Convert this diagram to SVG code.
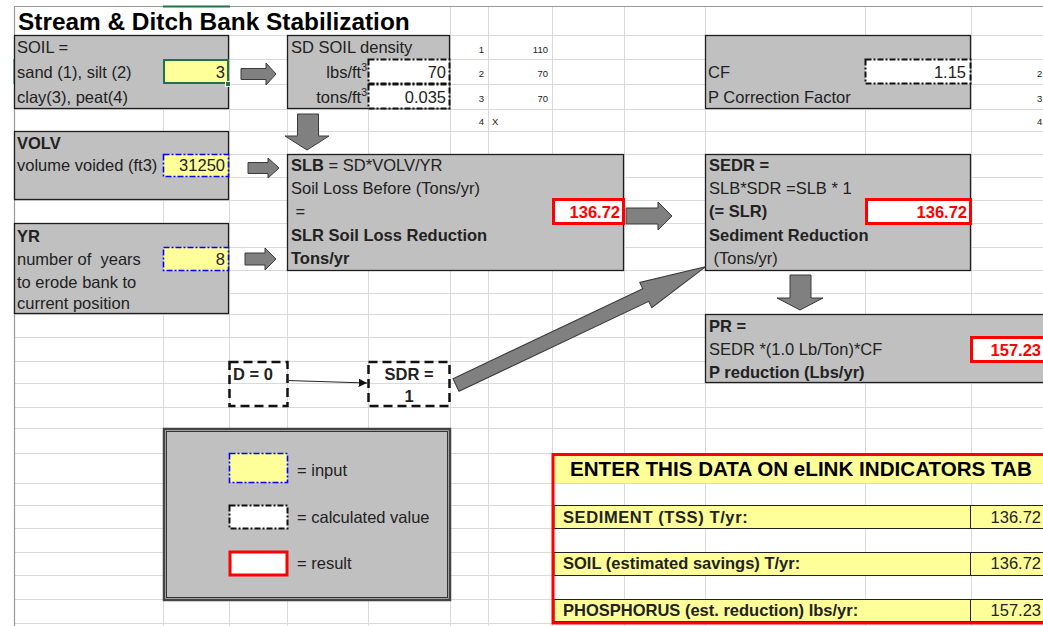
<svg xmlns="http://www.w3.org/2000/svg" width="1043" height="626" viewBox="0 0 1043 626">
<defs>
<style>
text{font-family:"Liberation Sans",Arial,sans-serif;font-size:16.5px;fill:#222;white-space:pre}
.b{font-weight:bold}
.r{text-anchor:end}
.red{fill:#ff0000;font-weight:bold}
.sm{font-size:9.5px}
.grid line{stroke:#dadada;stroke-width:1}
.box{fill:#c0c0c0;stroke:#1e1e1e;stroke-width:1.3}
.inp{fill:#ffff99;stroke:#0000ff;stroke-width:1.6;stroke-dasharray:6 2 2 2}
.calc{fill:#fff;stroke:#111;stroke-width:2;stroke-dasharray:6 2 2 2}
.res{fill:#fff;stroke:#ff0000;stroke-width:3}
.dash{fill:none;stroke:#111;stroke-width:2.5;stroke-dasharray:9 5}
.arr{fill:#808080;stroke:#3a3a3a;stroke-width:1}
</style>
<marker id="ah" viewBox="0 0 10 10" refX="10" refY="5" markerWidth="7" markerHeight="7" orient="auto">
<path d="M0,0 L10,5 L0,10 z" fill="#111"/>
</marker>
</defs>
<rect x="0" y="0" width="1043" height="626" fill="#fff"/>
<g class="grid">
<line x1="163.5" y1="6" x2="163.5" y2="626"/><line x1="229.5" y1="6" x2="229.5" y2="626"/>
<line x1="287.5" y1="6" x2="287.5" y2="626"/><line x1="368.5" y1="6" x2="368.5" y2="626"/>
<line x1="450.5" y1="6" x2="450.5" y2="626"/><line x1="488.5" y1="6" x2="488.5" y2="626"/>
<line x1="552.5" y1="6" x2="552.5" y2="626"/><line x1="624.5" y1="6" x2="624.5" y2="626"/>
<line x1="705.5" y1="6" x2="705.5" y2="626"/><line x1="865.5" y1="6" x2="865.5" y2="626"/>
<line x1="971.5" y1="6" x2="971.5" y2="626"/>
<line x1="14" y1="35.5" x2="1043" y2="35.5"/><line x1="14" y1="59.5" x2="1043" y2="59.5"/>
<line x1="14" y1="84.5" x2="1043" y2="84.5"/><line x1="14" y1="109.5" x2="1043" y2="109.5"/>
<line x1="14" y1="131.5" x2="1043" y2="131.5"/><line x1="14" y1="154.5" x2="1043" y2="154.5"/>
<line x1="14" y1="177.5" x2="1043" y2="177.5"/><line x1="14" y1="200.5" x2="1043" y2="200.5"/>
<line x1="14" y1="223.5" x2="1043" y2="223.5"/><line x1="14" y1="247.5" x2="1043" y2="247.5"/>
<line x1="14" y1="270.5" x2="1043" y2="270.5"/><line x1="14" y1="293.5" x2="1043" y2="293.5"/>
<line x1="14" y1="314.5" x2="1043" y2="314.5"/><line x1="14" y1="337.5" x2="1043" y2="337.5"/>
<line x1="14" y1="361.5" x2="1043" y2="361.5"/><line x1="14" y1="383.5" x2="1043" y2="383.5"/>
<line x1="14" y1="407.5" x2="1043" y2="407.5"/><line x1="14" y1="428.5" x2="1043" y2="428.5"/>
<line x1="14" y1="453.5" x2="1043" y2="453.5"/><line x1="14" y1="483.5" x2="1043" y2="483.5"/>
<line x1="14" y1="505.5" x2="1043" y2="505.5"/><line x1="14" y1="528.5" x2="1043" y2="528.5"/>
<line x1="14" y1="552.5" x2="1043" y2="552.5"/><line x1="14" y1="575.5" x2="1043" y2="575.5"/>
<line x1="14" y1="599.5" x2="1043" y2="599.5"/><line x1="14" y1="623.5" x2="1043" y2="623.5"/>
</g>
<rect x="15" y="7" width="435" height="28" fill="#fff"/>
<line x1="14" y1="6.5" x2="1043" y2="6.5" stroke="#9a9a9a" stroke-width="1.2"/>
<line x1="14.5" y1="6" x2="14.5" y2="626" stroke="#9a9a9a" stroke-width="1.2"/>
<line x1="163" y1="6.5" x2="230" y2="6.5" stroke="#217346" stroke-width="2"/>
<line x1="14.5" y1="59" x2="14.5" y2="84" stroke="#217346" stroke-width="2"/>

<text x="18" y="30" class="b" style="font-size:24.4px;fill:#000">Stream &amp; Ditch Bank Stabilization</text>

<g id="soil">
<rect class="box" x="14.5" y="35.5" width="214" height="73"/>
<text x="17" y="53">SOIL =</text>
<text x="17" y="78">sand (1), silt (2)</text>
<text x="17" y="103">clay(3), peat(4)</text>
<rect x="164" y="60" width="64" height="23" fill="#ffff99" stroke="#217346" stroke-width="2"/>
<rect x="225.5" y="81.5" width="5" height="5" fill="#217346" stroke="#fff" stroke-width="1"/>
<text x="225" y="78" class="r">3</text>
</g>

<g id="sd-soil">
<rect class="box" x="287.5" y="35.5" width="162" height="73"/>
<text x="291" y="53">SD SOIL density</text>
<rect class="calc" x="368.5" y="59.5" width="81" height="24"/>
<rect class="calc" x="368.5" y="84.5" width="81" height="24"/>
<text x="367" y="78" class="r">lbs/ft<tspan dy="-7" font-size="10.5">3</tspan></text>
<text x="367" y="103" class="r">tons/ft<tspan dy="-7" font-size="10.5">3</tspan></text>
<text x="446" y="78" class="r">70</text>
<text x="446" y="103" class="r">0.035</text>
</g>

<g id="density-table">
<text x="484" y="53" class="r sm">1</text><text x="548" y="53" class="r sm">110</text>
<text x="484" y="77" class="r sm">2</text><text x="548" y="77" class="r sm">70</text>
<text x="484" y="102" class="r sm">3</text><text x="548" y="102" class="r sm">70</text>
<text x="484" y="125" class="r sm">4</text><text x="492" y="125" class="sm">X</text>
<text x="1037" y="77" class="sm">2</text>
<text x="1037" y="102" class="sm">3</text>
<text x="1037" y="125" class="sm">4</text>
</g>

<g id="cf">
<rect class="box" x="705.5" y="35.5" width="265" height="73"/>
<rect class="calc" x="865.5" y="59.5" width="105" height="24"/>
<text x="708" y="78">CF</text>
<text x="708" y="103">P Correction Factor</text>
<text x="966" y="78" class="r">1.15</text>
</g>

<g id="volv">
<rect class="box" x="14.5" y="131.5" width="214" height="68"/>
<text x="17" y="149" class="b">VOLV</text>
<text x="17" y="171">volume voided (ft3)</text>
<rect class="inp" x="163.5" y="154.5" width="65" height="22"/>
<text x="225" y="171" class="r">31250</text>
</g>

<g id="yr">
<rect class="box" x="14.5" y="223.5" width="214" height="90"/>
<text x="17" y="242" class="b">YR</text>
<text x="17" y="265">number of  years</text>
<text x="17" y="288">to erode bank to</text>
<text x="17" y="309">current position</text>
<rect class="inp" x="163.5" y="247.5" width="65" height="23"/>
<text x="225" y="265" class="r">8</text>
</g>

<g id="slb">
<rect class="box" x="287.5" y="154.5" width="336" height="116"/>
<text x="291" y="171"><tspan class="b">SLB</tspan> = SD*VOLV/YR</text>
<text x="291" y="194">Soil Loss Before (Tons/yr)</text>
<text x="291" y="217"> =</text>
<text x="291" y="241" class="b">SLR Soil Loss Reduction</text>
<text x="291" y="264" class="b">Tons/yr</text>
<rect class="res" x="553.5" y="199.5" width="70" height="24"/>
<text x="620" y="218" class="r red">136.72</text>
</g>

<g id="sedr">
<rect class="box" x="705.5" y="154.5" width="265" height="116"/>
<text x="709" y="171" class="b">SEDR =</text>
<text x="709" y="194">SLB*SDR =SLB * 1</text>
<text x="709" y="217" class="b">(= SLR)</text>
<text x="709" y="241" class="b">Sediment Reduction</text>
<text x="709" y="264"> (Tons/yr)</text>
<rect class="res" x="866.5" y="199.5" width="104" height="24"/>
<text x="967" y="218" class="r red">136.72</text>
</g>

<g id="pr">
<rect class="box" x="705.5" y="314.5" width="345" height="68"/>
<text x="709" y="332" class="b">PR =</text>
<text x="709" y="355">SEDR *(1.0 Lb/Ton)*CF</text>
<text x="709" y="378" class="b">P reduction (Lbs/yr)</text>
<rect class="res" x="971.5" y="337.5" width="80" height="24"/>
<text x="1041" y="356" class="r red">157.23</text>
</g>

<g id="d0">
<rect class="dash" x="229.5" y="362" width="58" height="44"/>
<text x="233" y="380" class="b">D = 0</text>
</g>

<g id="sdr">
<rect class="dash" x="368.5" y="362" width="81" height="44"/>
<text x="409" y="380" class="b" text-anchor="middle">SDR =</text>
<text x="409" y="402" class="b" text-anchor="middle">1</text>
</g>

<g id="legend">
<rect x="164" y="429" width="286" height="171" fill="#c0c0c0" stroke="#444" stroke-width="2.5"/>
<rect x="166.5" y="431.5" width="281" height="166" fill="none" stroke="#333" stroke-width="1"/>
<rect class="inp" x="229.5" y="453.5" width="58" height="29"/>
<text x="297" y="476">= input</text>
<rect class="calc" x="229.5" y="505.5" width="58" height="23"/>
<text x="297" y="523">= calculated value</text>
<rect class="res" x="230" y="552" width="57" height="23"/>
<text x="297" y="569">= result</text>
</g>

<g id="elink">
<rect x="554" y="456" width="492" height="27" fill="#ffff99"/>
<rect x="554" y="505.5" width="492" height="23" fill="#ffff99" stroke="#222" stroke-width="1"/>
<rect x="554" y="552.5" width="492" height="23" fill="#ffff99" stroke="#222" stroke-width="1"/>
<rect x="554" y="599.5" width="492" height="22" fill="#ffff99" stroke="#222" stroke-width="1"/>
<line x1="970.5" y1="505" x2="970.5" y2="529" stroke="#222" stroke-width="1"/>
<line x1="970.5" y1="552" x2="970.5" y2="576" stroke="#222" stroke-width="1"/>
<line x1="970.5" y1="599" x2="970.5" y2="622" stroke="#222" stroke-width="1"/>
<rect x="553" y="454.5" width="495" height="168.5" fill="none" stroke="#ff0000" stroke-width="3"/>
<text x="570" y="476" class="b" style="font-size:20.6px;fill:#000">ENTER THIS DATA ON eLINK INDICATORS TAB</text>
<text x="563" y="523" class="b" style="letter-spacing:0.6px">SEDIMENT (TSS) T/yr:</text>
<text x="1041" y="523" class="r">136.72</text>
<text x="563" y="569" class="b">SOIL (estimated savings) T/yr:</text>
<text x="1041" y="569" class="r">136.72</text>
<text x="563" y="616" class="b">PHOSPHORUS (est. reduction) lbs/yr:</text>
<text x="1041" y="616" class="r">157.23</text>
</g>

<g id="connectors">
<polygon class="arr" points="241,68.5 266,68.5 266,63 276,74 266,85 266,79.5 241,79.5"/>
<polygon class="arr" points="297.5,114 318.5,114 318.5,136 329,136 307,150 285,136 297.5,136"/>
<polygon class="arr" points="248,162.5 268,162.5 268,158 279,168 268,178 268,173.5 248,173.5"/>
<polygon class="arr" points="245,253 265,253 265,248 276,259 265,270 265,265 245,265"/>
<polygon class="arr" points="626,208 658,208 658,202 672,216 658,230 658,224 626,224"/>
<polygon class="arr" points="790,275 811,275 811,298 823,298 800,310 777,298 790,298"/>
<polygon class="arr" transform="translate(456,385) rotate(-25.36)" points="0,-7 210,-7 210,-14 276,0 210,14 210,7 0,7"/>
<line x1="287" y1="380.5" x2="367" y2="383" stroke="#222" stroke-width="1.2" marker-end="url(#ah)"/>
</g>
</svg>
